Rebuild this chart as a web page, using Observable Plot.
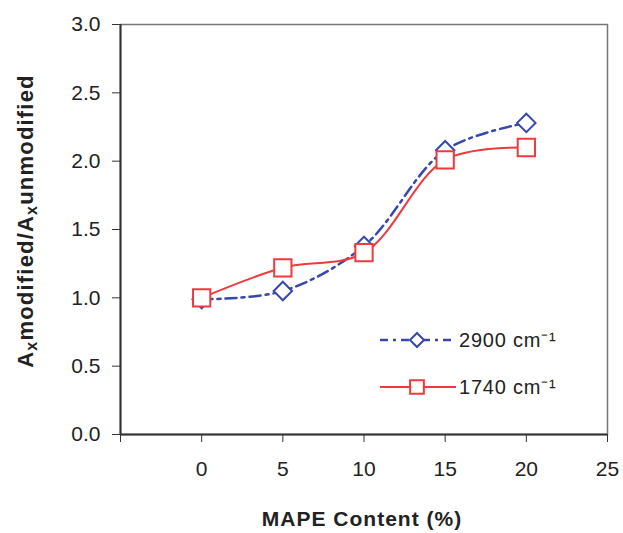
<!DOCTYPE html>
<html><head><meta charset="utf-8">
<script src="https://cdn.jsdelivr.net/npm/d3@7"></script>
<script src="https://cdn.jsdelivr.net/npm/@observablehq/plot@0.6"></script>
<style>body{margin:0;background:#fff}</style>
</head><body><div id="chart"></div>
<script>
const content = [0, 5, 10, 15, 20];
const s2900 = [0.99, 1.05, 1.38, 2.08, 2.28];
const s1740 = [1.00, 1.22, 1.33, 2.01, 2.10];
const seriesNames = ["2900 cm\u207B\u00B9", "1740 cm\u207B\u00B9"];
const xTicks = [-5, 0, 5, 10, 15, 20, 25];
const yTicks = [0, 0.5, 1, 1.5, 2, 2.5, 3];

const blue = "#3947ad", red = "#ee3a3e";
const d2900 = content.map((x, i) => ({x, y: s2900[i]}));
const d1740 = content.map((x, i) => ({x, y: s1740[i]}));

const W = 623, H = 533, mL = 120, mR = 16, mT = 24, mB = 99;
const plot = Plot.plot({
  width: W, height: H, marginLeft: mL, marginRight: mR, marginTop: mT, marginBottom: mB,
  style: {fontFamily: "'Liberation Sans', Arial, sans-serif", fontSize: "21px", color: "#222", background: "#fff"},
  x: {domain: [-5, 25]},
  y: {domain: [0, 3]},
  marks: [
    Plot.frame({stroke: "#777", strokeWidth: 1.5}),
    Plot.ruleX([-5], {stroke: "#333", strokeWidth: 2}),
    Plot.ruleY([0], {stroke: "#333", strokeWidth: 2}),
    Plot.axisX({ticks: xTicks, tickSize: 8, tickPadding: 19, tickFormat: d => d < 0 ? "" : String(d), label: null, stroke: "#333"}),
    Plot.axisY({ticks: yTicks, tickSize: 8, tickPadding: 12, tickFormat: d3.format(".1f"), label: null, stroke: "#333"}),
    Plot.line(d2900, {x: "x", y: "y", stroke: blue, strokeWidth: 2.5, strokeDasharray: "11,5,3,5", curve: "catmull-rom"}),
    Plot.dot(d2900, {x: "x", y: "y", symbol: "diamond2", r: 8.3, stroke: blue, strokeWidth: 2, fill: "white"}),
    Plot.line(d1740, {x: "x", y: "y", stroke: red, strokeWidth: 2, curve: "catmull-rom"}),
    Plot.dot(d1740, {x: "x", y: "y", symbol: "square2", r: 11, stroke: red, strokeWidth: 2, fill: "white"})
  ]
});
document.getElementById("chart").appendChild(plot);

const svg = d3.select(plot);
// Y axis title with subscripts
const yl = svg.append("text")
  .attr("transform", `translate(33,221) rotate(-90)`)
  .attr("text-anchor", "middle")
  .attr("font-weight", "bold").attr("font-size", 22).attr("letter-spacing", 1.2).attr("fill", "#222");
yl.append("tspan").text("A");
yl.append("tspan").attr("font-size", 16).attr("dy", 4).text("x");
yl.append("tspan").attr("dy", -4).text("modified/A");
yl.append("tspan").attr("font-size", 16).attr("dy", 4).text("x");
yl.append("tspan").attr("dy", -4).text("unmodified");
// X axis title
svg.append("text").attr("x", 362).attr("y", 526)
  .attr("text-anchor", "middle").attr("font-weight", "bold").attr("font-size", 21)
  .attr("letter-spacing", 1).attr("fill", "#222")
  .text("MAPE Content (%)");

// Legend
const leg = [
  {name: seriesNames[0], color: blue, dash: "8,5,3,5", sym: d3.symbolDiamond2, size: 125, y: 340, w: 2.5},
  {name: seriesNames[1], color: red, dash: null, sym: d3.symbolSquare2, size: 240, y: 387, w: 2}
];
for (const l of leg) {
  const g = svg.append("g");
  const ln = g.append("line").attr("x1", 380).attr("x2", 456).attr("y1", l.y).attr("y2", l.y)
    .attr("stroke", l.color).attr("stroke-width", l.w);
  if (l.dash) ln.attr("stroke-dasharray", l.dash);
  g.append("path").attr("d", d3.symbol(l.sym, l.size)()).attr("transform", `translate(417,${l.y})`)
    .attr("fill", "white").attr("stroke", l.color).attr("stroke-width", 2);
  g.append("text").attr("x", 459).attr("y", l.y + 7).attr("text-anchor", "start")
    .attr("font-size", 20).attr("letter-spacing", 0.8).attr("fill", "#222").text(l.name);
}
</script></body></html>
